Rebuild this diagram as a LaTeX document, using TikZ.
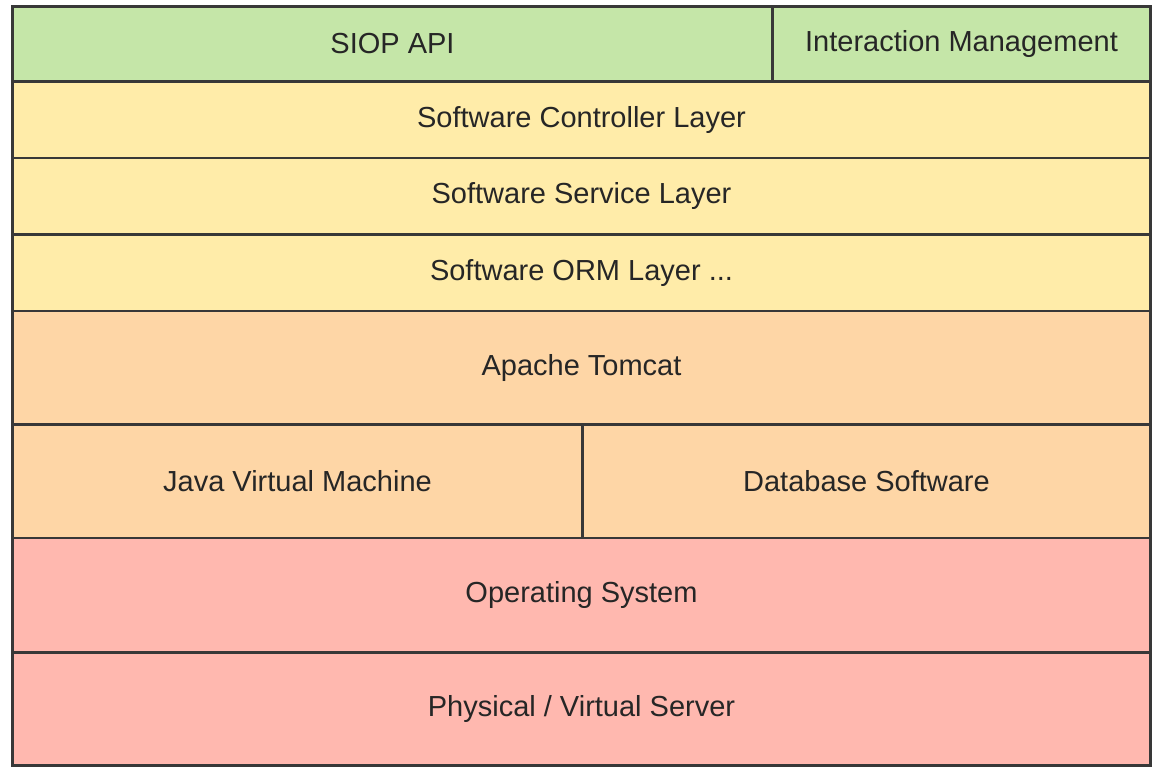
\documentclass[tikz,border=0pt]{standalone}
\usepackage{fontspec}
\setmainfont{Liberation Sans}
\usetikzlibrary{positioning}
\definecolor{apigreen}{HTML}{C5E6A8}
\definecolor{appyellow}{HTML}{FFECA9}
\definecolor{runorange}{HTML}{FED6A6}
\definecolor{sysred}{HTML}{FFB8AF}
\tikzset{
	layer/.style={draw=black!78, line width=2.2pt, inner sep=0pt, outer sep=0pt,
		text=black!85, font=\fontsize{29}{34}\selectfont, anchor=north west},
	api/.style={layer, fill=apigreen},
	app/.style={layer, fill=appyellow},
	run/.style={layer, fill=runorange},
	sys/.style={layer, fill=sysred}
}

\begin{document}
\begin{tikzpicture}[x=1pt,y=-1pt]
		% page frame
		\useasboundingbox (0,0) rectangle (1157,768);
		
		% top row
		\node[api, minimum width=760pt, minimum height=75pt] (siop) at (12.5,6.5) {SIOP API};
		\node[api, minimum width=378pt, minimum height=75pt] (inter) at (772.5,6.5) {Interaction Management};
		
		% software layers
		\node[app, minimum width=1138pt, minimum height=76.5pt] (ctrl) at (12.5,81.5) {Software Controller Layer};
		\node[app, minimum width=1138pt, minimum height=76.5pt] (serv) at (12.5,158) {Software Service Layer};
		\node[app, minimum width=1138pt, minimum height=76.5pt] (orm) at (12.5,234.5) {Software ORM Layer ...};
		
		% runtime
		\node[run, minimum width=1138pt, minimum height=113.5pt] (tomcat) at (12.5,311) {Apache Tomcat};
		\node[run, minimum width=570pt, minimum height=113.5pt] (jvm) at (12.5,424.5) {Java Virtual Machine};
		\node[run, minimum width=568pt, minimum height=113.5pt] (db) at (582.5,424.5) {Database Software};
		
		% system
		\node[sys, minimum width=1138pt, minimum height=114.5pt] (os) at (12.5,538) {Operating System};
		\node[sys, minimum width=1138pt, minimum height=113pt] (server) at (12.5,652.5) {Physical / Virtual Server};
		
	\end{tikzpicture}
\end{document}
